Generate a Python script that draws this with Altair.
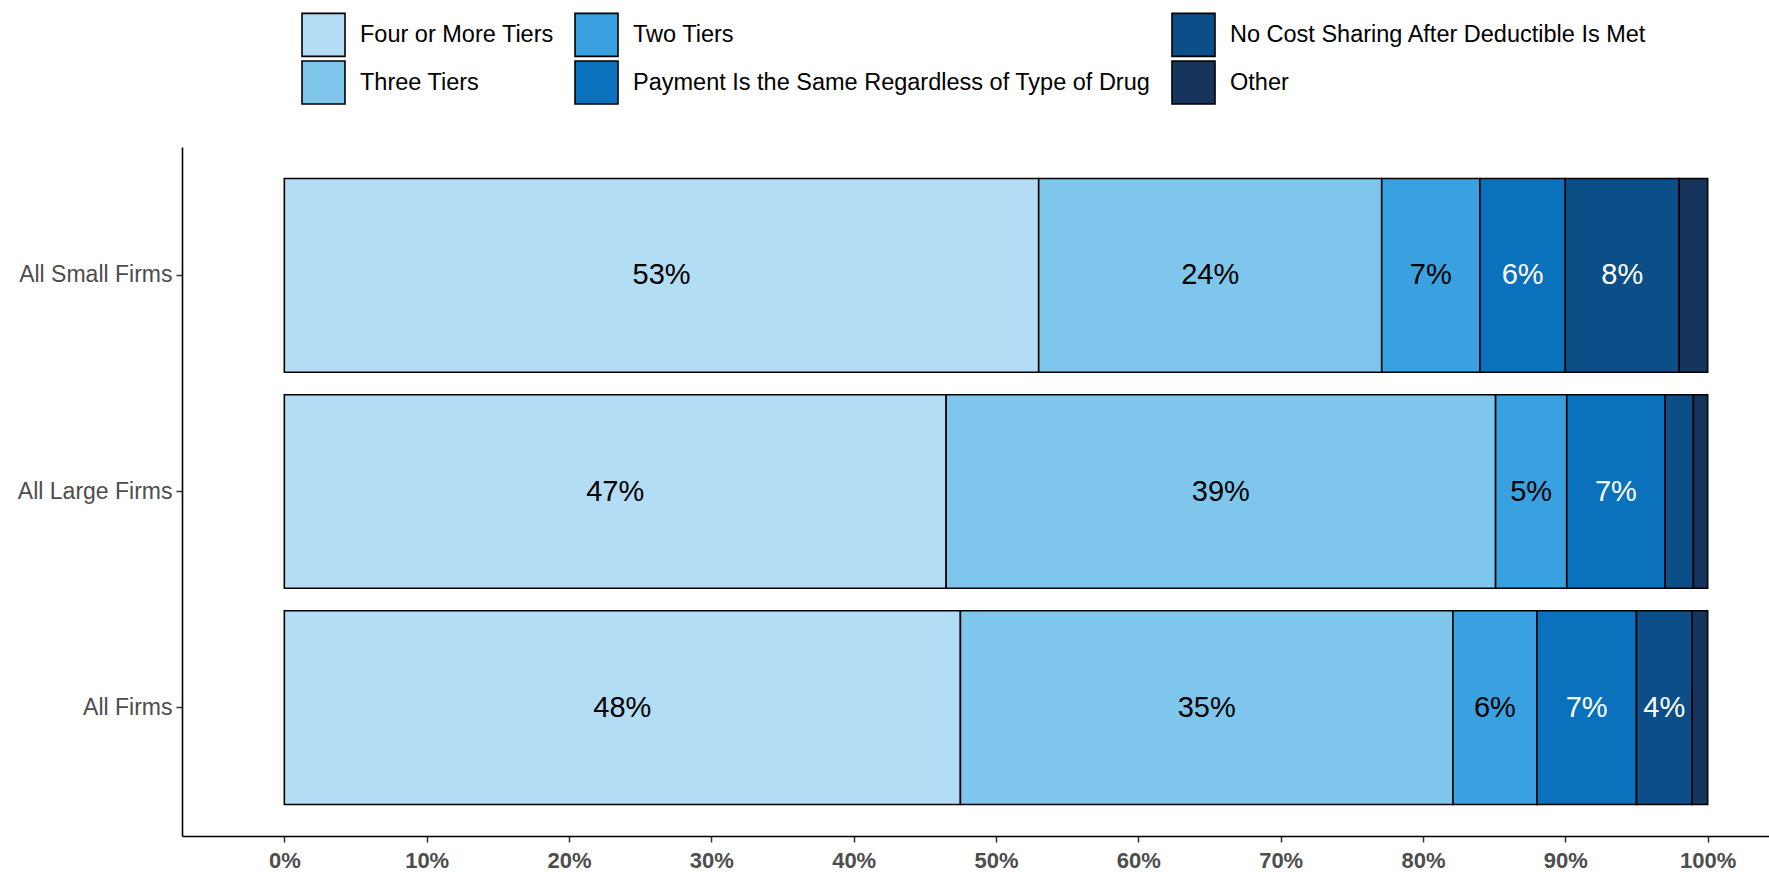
import altair as alt
import pandas as pd

groups = ["All Small Firms", "All Large Firms", "All Firms"]
categories = [
    "Four or More Tiers",
    "Three Tiers",
    "Two Tiers",
    "Payment Is the Same Regardless of Type of Drug",
    "No Cost Sharing After Deductible Is Met",
    "Other",
]
colors = ["#b3ddf4", "#7fc6ec", "#3aa1e1", "#0a71bd", "#0c4e87", "#16345c"]
small_vals = [53.0, 24.1, 6.9, 6.0, 8.0, 2.0]
large_vals = [46.5, 38.6, 5.0, 6.9, 2.0, 1.0]
all_vals = [47.5, 34.6, 5.9, 7.0, 3.9, 1.1]
small_labels = ["53%", "24%", "7%", "6%", "8%", ""]
large_labels = ["47%", "39%", "5%", "7%", "", ""]
all_labels = ["48%", "35%", "6%", "7%", "4%", ""]
label_colors = ["black", "black", "black", "white", "white", "white"]
x_ticks = [0.0, 0.1, 0.2, 0.3, 0.4, 0.5, 0.6, 0.7, 0.8, 0.9, 1.0]

rows = []
for g, vals, labs in [
    (groups[0], small_vals, small_labels),
    (groups[1], large_vals, large_labels),
    (groups[2], all_vals, all_labels),
]:
    cum = 0.0
    for i, (c, v, l) in enumerate(zip(categories, vals, labs)):
        start = cum / 100.0
        cum += v
        end = cum / 100.0
        rows.append(
            dict(group=g, category=c, order=i, start=start, end=end,
                 mid=(start + end) / 2, label=l, lcolor=label_colors[i])
        )
df = pd.DataFrame(rows)

yscale = alt.Scale(domain=groups, paddingInner=0.104, paddingOuter=0.146)
xscale = alt.Scale(domain=[-0.0719, 1.0431], nice=False, zero=False)

y_enc = alt.Y(
    "group:N",
    scale=yscale,
    axis=alt.Axis(
        title=None,
        labelFont="Liberation Sans",
        labelFontSize=23,
        labelColor="#4d4d4d",
        tickSize=6,
        tickColor="#333333",
        tickWidth=1.5,
        domainColor="black",
        domainWidth=1.6,
        labelPadding=4,
        grid=False,
    ),
)

bars = alt.Chart(df).mark_bar(stroke="black", strokeWidth=1.6, opacity=1).encode(
    y=y_enc,
    x=alt.X(
        "start:Q",
        scale=xscale,
        axis=alt.Axis(
            title=None,
            values=x_ticks,
            format=".0%",
            labelFont="Liberation Sans",
            labelFontWeight="bold",
            labelFontSize=22,
            labelColor="#4d4d4d",
            tickSize=6,
            tickColor="#333333",
            tickWidth=1.5,
            domainColor="black",
            domainWidth=1.6,
            labelPadding=8,
            grid=False,
        ),
    ),
    x2="end:Q",
    color=alt.Color(
        "category:N",
        scale=alt.Scale(domain=categories, range=colors),
        legend=alt.Legend(
            title=None,
            orient="none",
            legendX=119,
            legendY=-135,
            columns=3,
            symbolType="square",
            symbolSize=1849,
            symbolStrokeColor="black",
            symbolStrokeWidth=1.6,
            symbolOpacity=1,
            labelFont="Liberation Sans",
            labelFontSize=23.5,
            labelColor="black",
            labelOffset=14,
            labelLimit=800,
            columnPadding=17,
            rowPadding=-7,
            padding=0,
        ),
    ),
)

text = alt.Chart(df).mark_text(font="Liberation Sans", fontSize=29).encode(
    y=alt.Y("group:N", scale=yscale),
    x=alt.X("mid:Q", scale=xscale),
    text="label:N",
    color=alt.Color("lcolor:N", scale=None, legend=None),
)

chart = (
    alt.layer(bars, text)
    .resolve_scale(color="independent")
    .properties(
        width=1587,
        height=689,
        autosize=alt.AutoSizeParams(type="none"),
        padding={"left": 182, "top": 147, "right": 0, "bottom": 36},
    )
    .configure_view(stroke=None)
)

chart.save("out.html", embed_options={"renderer": "svg", "actions": False})
